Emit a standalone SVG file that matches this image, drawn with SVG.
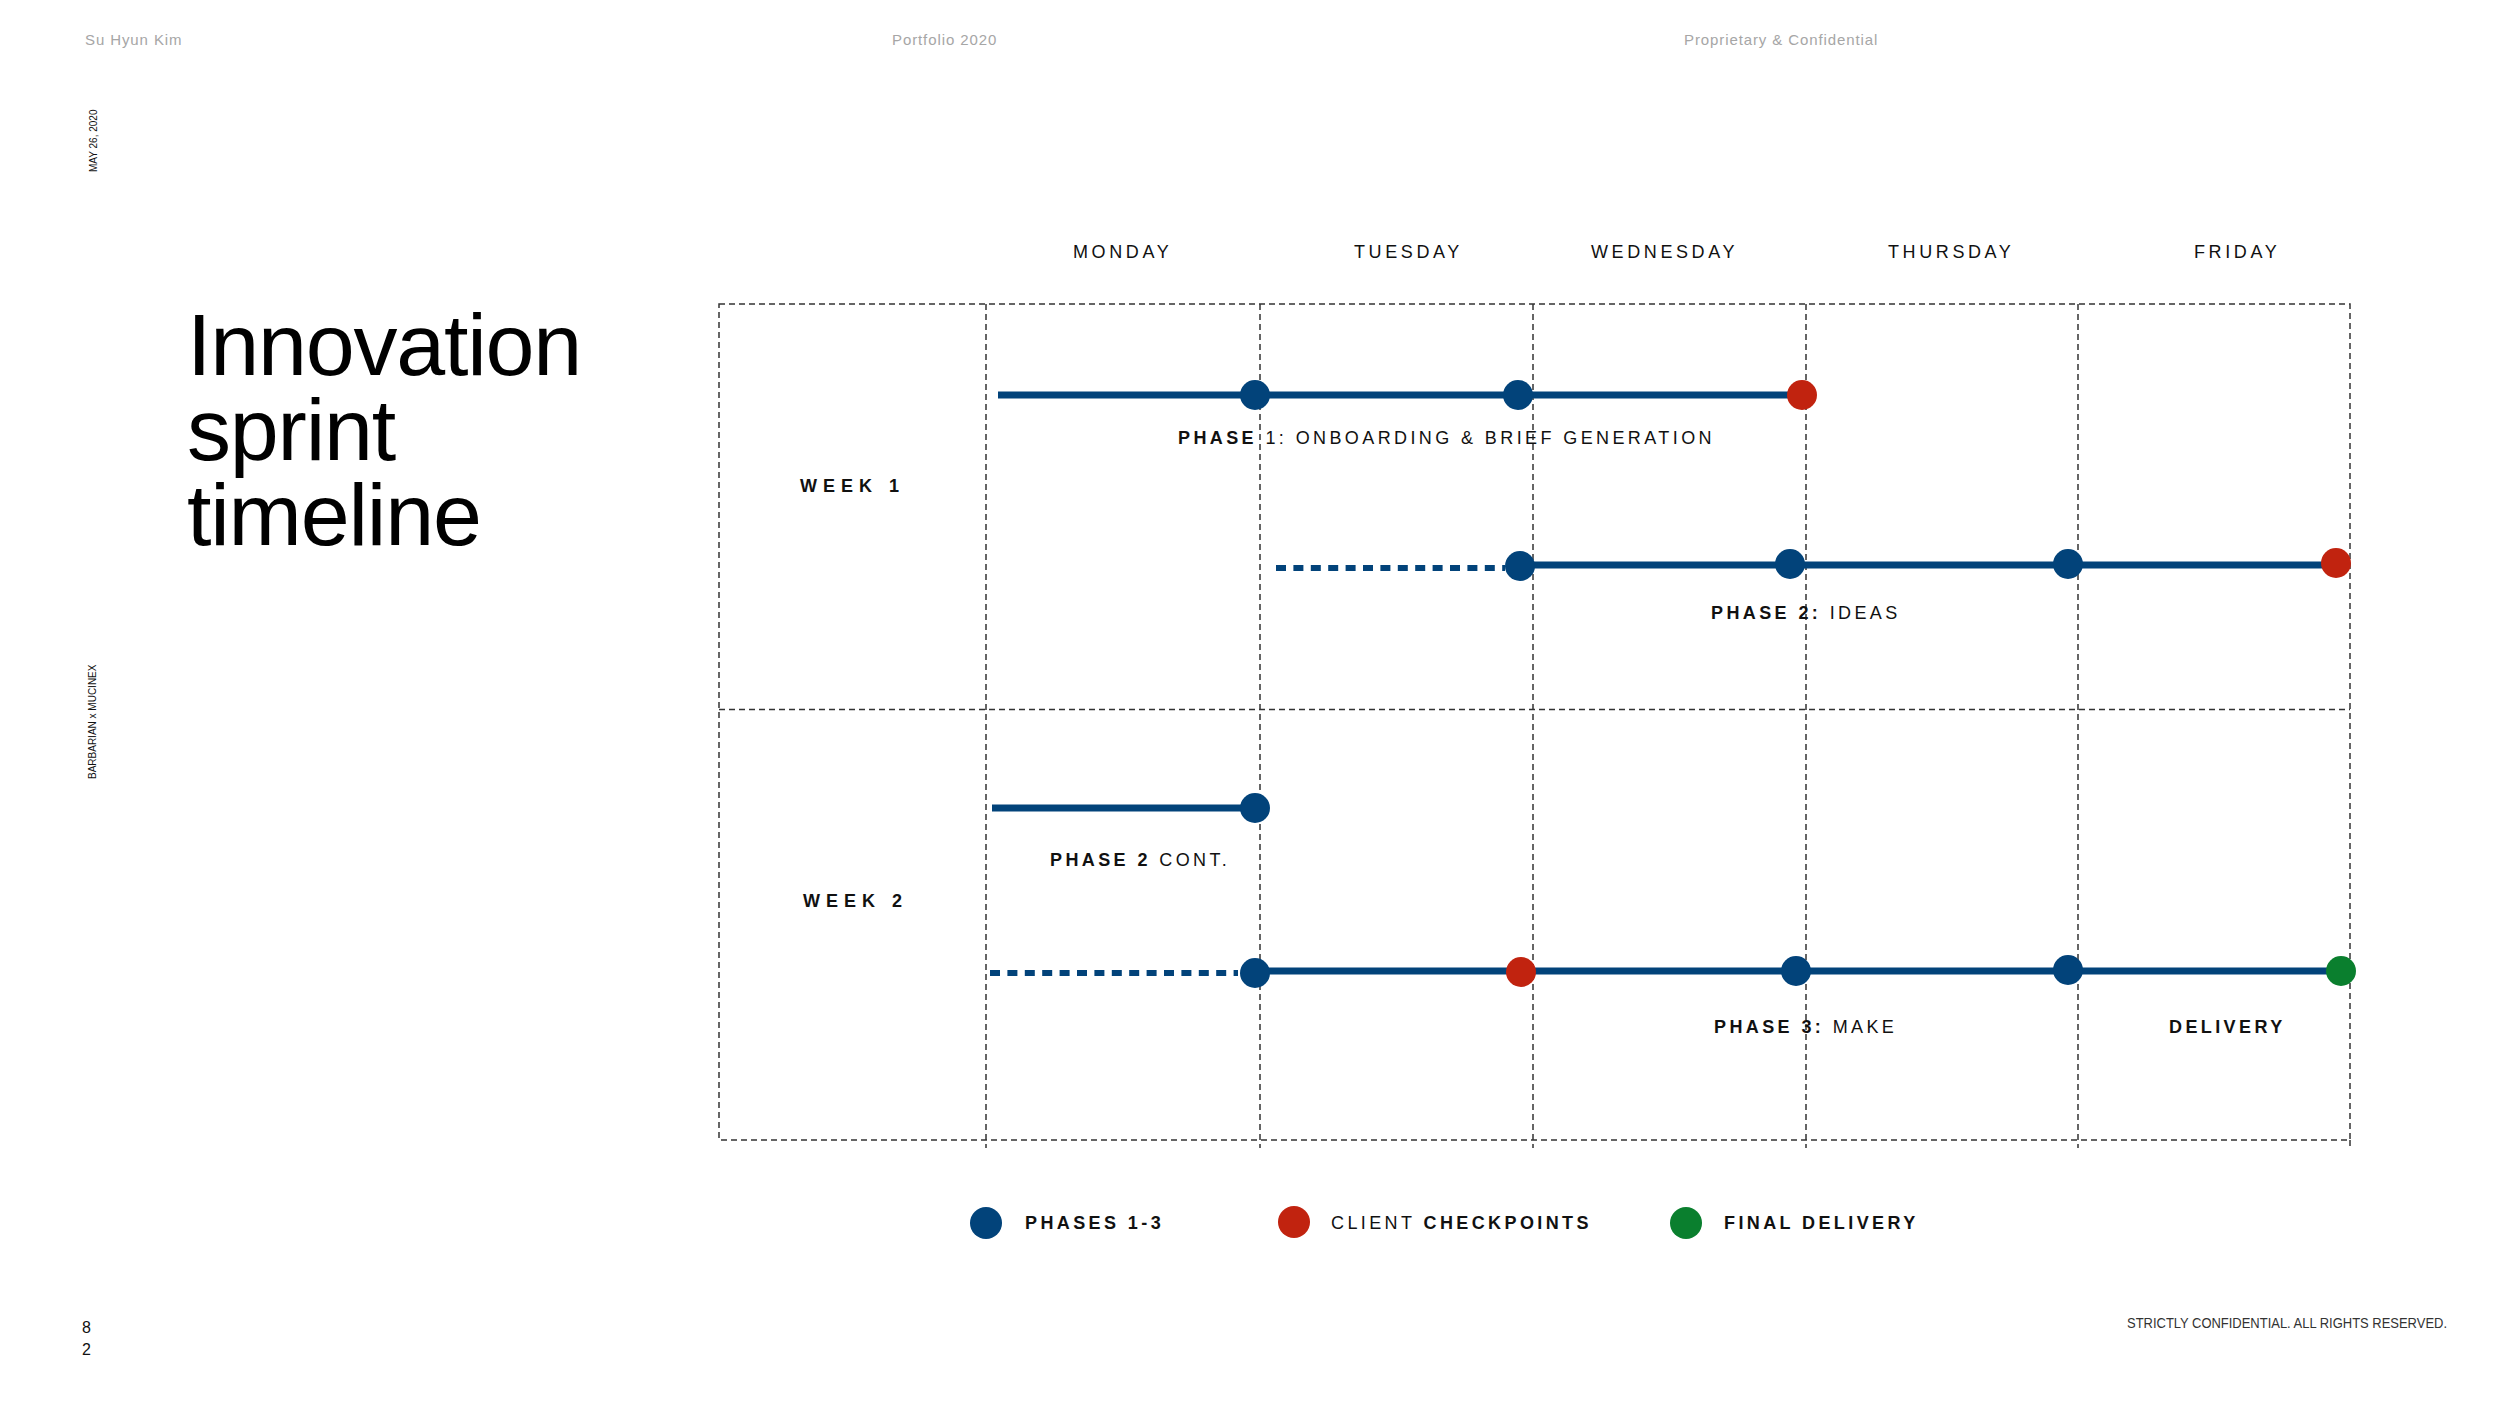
<svg xmlns="http://www.w3.org/2000/svg" width="2500" height="1407" viewBox="0 0 2500 1407">
<style>
  text { font-family: "Liberation Sans", Arial, sans-serif; }
  .hdr { font-size: 15px; fill: #a6a6a6; letter-spacing: 0.9px; }
  .day { font-size: 18px; fill: #111; letter-spacing: 3.6px; }
  .lbl { font-size: 18px; fill: #111; letter-spacing: 3.4px; }
  .wk { font-size: 18px; fill: #111; font-weight: bold; letter-spacing: 6px; }
  .b { font-weight: bold; }
  .ttl { font-size: 88px; fill: #000; letter-spacing: -1.2px; }
  .grid { stroke: #333; stroke-width: 1.5; stroke-dasharray: 6 4; fill: none; }
  .track { stroke: #02437a; stroke-width: 7; fill: none; }
  .dots { stroke: #02437a; stroke-width: 6; fill: none; stroke-dasharray: 10 7.4; }
  .blue { fill: #02437a; }
  .red { fill: #c1230f; }
  .green { fill: #0a7f2e; }
</style>

<g id="header">
  <text class="hdr" x="85" y="45">Su Hyun Kim</text>
  <text class="hdr" x="892" y="45">Portfolio 2020</text>
  <text class="hdr" x="1684" y="45">Proprietary &amp; Confidential</text>
  <text x="97" y="172" font-size="10" fill="#111" transform="rotate(-90 97 172)">MAY 26, 2020</text>
  <text x="96" y="779" font-size="10" fill="#111" transform="rotate(-90 96 779)">BARBARIAN x MUCINEX</text>
</g>

<g id="title">
  <text class="ttl" x="187" y="375">Innovation</text>
  <text class="ttl" x="187" y="460">sprint</text>
  <text class="ttl" x="187" y="545">timeline</text>
</g>

<g id="days">
  <text class="day" x="1073" y="258">MONDAY</text>
  <text class="day" x="1354" y="258">TUESDAY</text>
  <text class="day" x="1591" y="258">WEDNESDAY</text>
  <text class="day" x="1888" y="258">THURSDAY</text>
  <text class="day" x="2194" y="258">FRIDAY</text>
</g>

<g id="grid">
  <rect class="grid" x="719" y="304" width="1631" height="836"/>
  <line class="grid" x1="719" y1="709.5" x2="2350" y2="709.5"/>
  <line class="grid" x1="986" y1="304" x2="986" y2="1148"/>
  <line class="grid" x1="1260" y1="304" x2="1260" y2="1148"/>
  <line class="grid" x1="1533" y1="304" x2="1533" y2="1148"/>
  <line class="grid" x1="1806" y1="304" x2="1806" y2="1148"/>
  <line class="grid" x1="2078" y1="304" x2="2078" y2="1148"/>
  <line class="grid" x1="2350" y1="1140" x2="2350" y2="1148"/>
</g>

<g id="weeks">
  <text class="wk" x="800" y="492">WEEK 1</text>
  <text class="wk" x="803" y="907">WEEK 2</text>
</g>

<g id="connectors">
  <line class="track" x1="998" y1="395" x2="1802" y2="395"/>
  <line class="dots" x1="1276" y1="568" x2="1505" y2="568"/>
  <line class="track" x1="1520" y1="565" x2="2336" y2="565"/>
  <line class="track" x1="992" y1="808" x2="1255" y2="808"/>
  <line class="dots" x1="990" y1="973" x2="1238" y2="973"/>
  <line class="track" x1="1255" y1="971" x2="2341" y2="971"/>
</g>

<g id="phase1">
  <circle class="blue" cx="1255" cy="395" r="15"/>
  <circle class="blue" cx="1518" cy="395" r="15"/>
  <circle class="red" cx="1802" cy="395" r="15"/>
  <text class="lbl" x="1178" y="444"><tspan class="b">PHASE</tspan> 1: ONBOARDING &amp; BRIEF GENERATION</text>
</g>

<g id="phase2">
  <circle class="blue" cx="1520" cy="566" r="15"/>
  <circle class="blue" cx="1790" cy="564" r="15"/>
  <circle class="blue" cx="2068" cy="564" r="15"/>
  <circle class="red" cx="2336" cy="563" r="15"/>
  <text class="lbl" x="1711" y="619"><tspan class="b">PHASE 2:</tspan> IDEAS</text>
</g>

<g id="phase2cont">
  <circle class="blue" cx="1255" cy="808" r="15"/>
  <text class="lbl" x="1050" y="866"><tspan class="b">PHASE 2</tspan> CONT.</text>
</g>

<g id="phase3">
  <circle class="blue" cx="1255" cy="973" r="15"/>
  <circle class="red" cx="1521" cy="972" r="15"/>
  <circle class="blue" cx="1796" cy="971" r="15"/>
  <circle class="blue" cx="2068" cy="970" r="15"/>
  <circle class="green" cx="2341" cy="971" r="15"/>
  <text class="lbl" x="1714" y="1033"><tspan class="b">PHASE 3:</tspan> MAKE</text>
  <text class="lbl b" x="2169" y="1033">DELIVERY</text>
</g>

<g id="legend">
  <circle class="blue" cx="986" cy="1223" r="16"/>
  <text class="lbl b" x="1025" y="1229">PHASES 1-3</text>
  <circle class="red" cx="1294" cy="1222" r="16"/>
  <text class="lbl" x="1331" y="1229">CLIENT <tspan class="b">CHECKPOINTS</tspan></text>
  <circle class="green" cx="1686" cy="1223" r="16"/>
  <text class="lbl b" x="1724" y="1229">FINAL DELIVERY</text>
</g>

<g id="footer">
  <text x="82" y="1333" font-size="16" fill="#111">8</text>
  <text x="82" y="1355" font-size="16" fill="#111">2</text>
  <text x="2127" y="1328" font-size="14" fill="#333" textLength="320" lengthAdjust="spacingAndGlyphs">STRICTLY CONFIDENTIAL. ALL RIGHTS RESERVED.</text>
</g>
</svg>
